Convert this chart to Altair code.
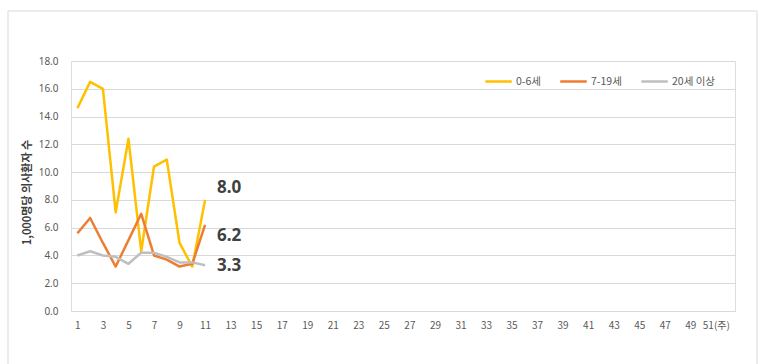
import altair as alt
import pandas as pd

weeks = list(range(1, 53))
series_names = ["0-6세", "7-19세", "20세 이상"]
data_weeks = list(range(1, 12))
vals_0_6 = [14.6, 16.5, 16.0, 7.1, 12.4, 4.3, 10.4, 10.9, 4.9, 3.2, 8.0]
vals_7_19 = [5.6, 6.7, 4.9, 3.2, 5.1, 7.0, 4.0, 3.7, 3.2, 3.4, 6.2]
vals_20 = [4.0, 4.3, 4.0, 3.9, 3.4, 4.2, 4.2, 3.9, 3.5, 3.5, 3.3]
y_ticks = [0, 2, 4, 6, 8, 10, 12, 14, 16, 18]
x_ticks = list(range(1, 52, 2))
colors = ["#FFC000", "#ED7D31", "#BFBFBF"]

rows = []
for name, vals in zip(series_names, [vals_0_6, vals_7_19, vals_20]):
    for w, v in zip(data_weeks, vals):
        rows.append({"week": w, "value": v, "series": name})
df = pd.DataFrame(rows)

last = df[df["week"] == data_weeks[-1]].copy()
label_dy = {"0-6세": -12, "7-19세": 11, "20세 이상": 1}

x_enc = alt.X("week:O", scale=alt.Scale(domain=weeks, paddingInner=0, paddingOuter=0),
              axis=alt.Axis(values=x_ticks, title=None, labelAngle=0, ticks=False,
                            domain=True, domainColor="#d9d9d9", grid=False,
                            labelFontSize=10, labelColor="#595959", labelPadding=9,
                            labelFont="Noto Sans CJK KR", labelOverlap=False,
                            labelExpr="datum.value == 51 ? '51(주)' : datum.label"))
y_enc = alt.Y("value:Q", scale=alt.Scale(domain=[0, 18], nice=False),
              axis=alt.Axis(values=y_ticks, format=".1f", title="1,000명당 의사환자 수",
                            titleFont="Noto Sans CJK KR", titleFontSize=11, titleFontWeight="bold",
                            titleColor="#404040", titleX=-44, titleY=131, titleAngle=270,
                            titleAlign="center", titleBaseline="middle",
                            labelFontSize=10, labelColor="#595959", labelPadding=13,
                            labelOverlap=False, tickCount=10,
                            ticks=False, domain=False, gridColor="#d9d9d9", labelFont="Noto Sans"))

lines = alt.Chart(df).mark_line(strokeWidth=2.5, strokeJoin="round").encode(
    x=x_enc,
    y=y_enc,
    color=alt.Color("series:N", scale=alt.Scale(domain=series_names, range=colors),
                    legend=alt.Legend(title=None, orient="none", direction="horizontal",
                                      legendX=413, legendY=6, symbolType="stroke",
                                      symbolSize=700, symbolStrokeWidth=2.5,
                                      labelFont="Noto Sans CJK KR", labelFontSize=10.5,
                                      labelColor="#595959", columnPadding=14,
                                      labelOffset=3)),
    order=alt.Order("week:O"),
)

texts = []
for name in series_names:
    t = alt.Chart(last[last["series"] == name]).mark_text(
        align="left", baseline="middle", dx=12, dy=label_dy[name],
        fontSize=17, fontWeight="bold", color="#404040", font="Noto Sans"
    ).encode(x=x_enc, y=y_enc, text=alt.Text("value:Q", format=".1f"))
    texts.append(t)

border = alt.Chart(pd.DataFrame({"a": [0]})).mark_rect(
    fill="transparent", stroke="#d9d9d9", strokeWidth=1, clip=False
).encode(x=alt.value(-63), x2=alt.value(686), y=alt.value(-50), y2=alt.value(340))

chart = alt.layer(border, lines, *texts).properties(
    width=664, height=250,
    autosize=alt.AutoSizeParams(type="none"),
    padding={"left": 71, "top": 61, "right": 24, "bottom": 53},
).configure_view(stroke=None).configure(background="white")

chart.save("out.html", embed_options={"renderer": "svg", "actions": False})
